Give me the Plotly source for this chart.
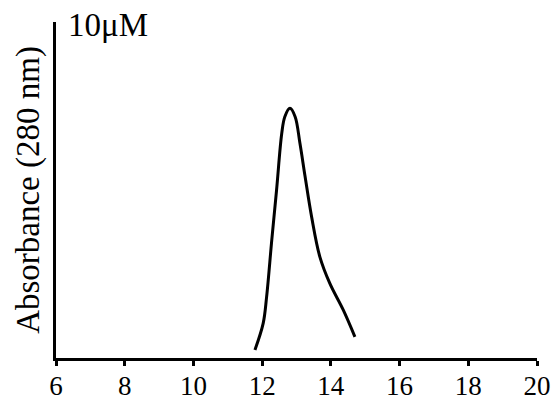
import plotly.graph_objects as go

elution_ml = [11.79, 12.03, 12.13, 12.28, 12.42, 12.57, 12.66, 12.81, 12.96, 13.10,
              13.25, 13.44, 13.68, 13.97, 14.36, 14.70]
absorbance = [0.024, 0.103, 0.182, 0.351, 0.500, 0.668, 0.718, 0.743, 0.718, 0.639,
              0.540, 0.420, 0.301, 0.222, 0.143, 0.063]
x_ticks = [6, 8, 10, 12, 14, 16, 18, 20]
panel_label = "10μM"
y_title = "Absorbance (280 nm)"

FONT = "Liberation Serif"

fig = go.Figure()
fig.add_trace(go.Scatter(x=elution_ml, y=absorbance, mode="lines",
                         line=dict(color="black", width=3, shape="spline"),
                         showlegend=False, cliponaxis=False))

fig.update_layout(
    width=556, height=405,
    margin=dict(l=56, r=19, t=22, b=47, autoexpand=False),
    paper_bgcolor="white", plot_bgcolor="white",
    font=dict(family=FONT, color="black"),
    xaxis=dict(range=[6, 20], tickvals=x_ticks, ticks="outside", ticklen=5,
               tickwidth=3, tickcolor="black", showline=True, linewidth=3,
               linecolor="black", showgrid=False, zeroline=False, automargin=False,
               ticklabelstandoff=-3,
               tickfont=dict(family=FONT, size=27, color="black")),
    yaxis=dict(range=[0, 1], showticklabels=False, ticks="", showline=True,
               linewidth=3, linecolor="black", showgrid=False, zeroline=False,
               automargin=False,
               title=dict(text=y_title, font=dict(family=FONT, size=33, color="black"),
                          standoff=4)),
    annotations=[dict(text=panel_label, xref="paper", yref="paper", x=0.02, y=1.05,
                      xanchor="left", yanchor="top", showarrow=False,
                      font=dict(family=FONT, size=33, color="black"))],
)

fig.write_html("out.html")
